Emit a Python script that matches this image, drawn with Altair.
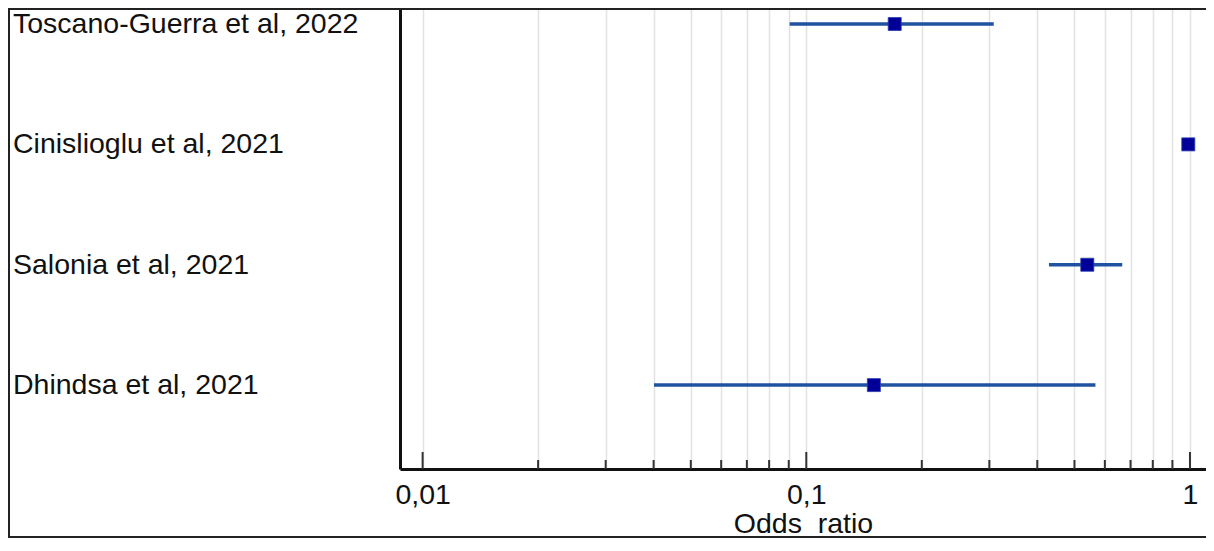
import altair as alt
import pandas as pd

# ---- data ----
studies = ["Toscano-Guerra et al, 2022", "Cinislioglu et al, 2021",
           "Salonia et al, 2021", "Dhindsa et al, 2021"]
row = [4, 3, 2, 1]
odds_ratio = [0.170, 0.99, 0.54, 0.150]
ci_low = [0.0905, 0.99, 0.429, 0.0401]
ci_high = [0.308, 0.99, 0.666, 0.567]

major_ticks = [0.01, 0.1, 1]
minor_ticks = [0.02, 0.03, 0.04, 0.05, 0.06, 0.07, 0.08, 0.09,
               0.2, 0.3, 0.4, 0.5, 0.6, 0.7, 0.8, 0.9]
grid_values = [0.01, 0.02, 0.03, 0.04, 0.05, 0.06, 0.07, 0.08, 0.09,
               0.1, 0.2, 0.3, 0.4, 0.5, 0.6, 0.7, 0.8, 0.9, 1]

df = pd.DataFrame({"study": studies, "row": row, "or": odds_ratio,
                   "lo": ci_low, "hi": ci_high})
df_major = pd.DataFrame({"v": major_ticks})
df_minor = pd.DataFrame({"v": minor_ticks})

# ---- layout ----
W, H = 806, 461
FONT = "Liberation Sans"
FS = 28.5

xscale = alt.Scale(type="log", domain=[0.00873, 1.101], nice=False, zero=False)
yscale = alt.Scale(domain=[0.303, 4.133], nice=False, zero=False)

x_axis = alt.Axis(
    values=grid_values, title="Odds\u00a0 ratio", grid=True, gridColor="#e2e2e2",
    gridWidth=1.5, ticks=False, domain=True, domainColor="#111111", domainWidth=3,
    labelExpr="indexof([0.01, 0.1, 1], datum.value) >= 0 ? replace('' + datum.value, '.', ',') : ''",
    labelOverlap=False, labelFontSize=FS, labelFont=FONT, labelColor="#111111",
    labelPadding=11, labelFlush=False,
    titleFont=FONT, titleFontSize=FS, titleFontWeight="normal", titleColor="#111111",
    titlePadding=1,
)
y_axis = alt.Axis(labels=False, ticks=False, grid=False, domain=True,
                  domainColor="#111111", domainWidth=3, title=None)

base = alt.Chart(df)

ci = base.mark_rule(color="#1f52a0", strokeWidth=3.5).encode(
    x=alt.X("lo:Q", scale=xscale, axis=x_axis),
    x2="hi:Q",
    y=alt.Y("row:Q", scale=yscale, axis=y_axis),
)
pts = base.mark_square(size=170, color="#000099", opacity=1,
                       stroke="#2a3fb0", strokeWidth=0.8).encode(
    x=alt.X("or:Q", scale=xscale),
    y=alt.Y("row:Q", scale=yscale),
)
labels = base.mark_text(align="left", baseline="middle", fontSize=FS,
                        font=FONT, color="#111111").encode(
    x=alt.value(-387),
    y=alt.Y("row:Q", scale=yscale),
    text="study:N",
)
maj = alt.Chart(df_major).mark_rule(color="#333333", strokeWidth=2).encode(
    x=alt.X("v:Q", scale=xscale),
    y=alt.value(H), y2=alt.value(H - 17),
)
mino = alt.Chart(df_minor).mark_rule(color="#333333", strokeWidth=2).encode(
    x=alt.X("v:Q", scale=xscale),
    y=alt.value(H), y2=alt.value(H - 9),
)
# figure frame (top, left, bottom)
frame_top = alt.Chart(df_major).mark_rule(color="#222222", strokeWidth=2).encode(
    x=alt.value(-392), x2=alt.value(W), y=alt.value(1))
frame_left = alt.Chart(df_major).mark_rule(color="#222222", strokeWidth=2).encode(
    x=alt.value(-391), y=alt.value(0), y2=alt.value(530))
frame_bottom = alt.Chart(df_major).mark_rule(color="#222222", strokeWidth=2).encode(
    x=alt.value(-392), x2=alt.value(W), y=alt.value(529))

chart = alt.layer(ci, maj, mino, pts, labels, frame_top, frame_left, frame_bottom).properties(
    width=W, height=H,
    autosize=alt.AutoSizeParams(type="none"),
    padding={"left": 392, "top": 0, "right": 0, "bottom": 69},
).configure_view(strokeWidth=0)

chart.save("out.html", embed_options={"renderer": "svg", "actions": False})
